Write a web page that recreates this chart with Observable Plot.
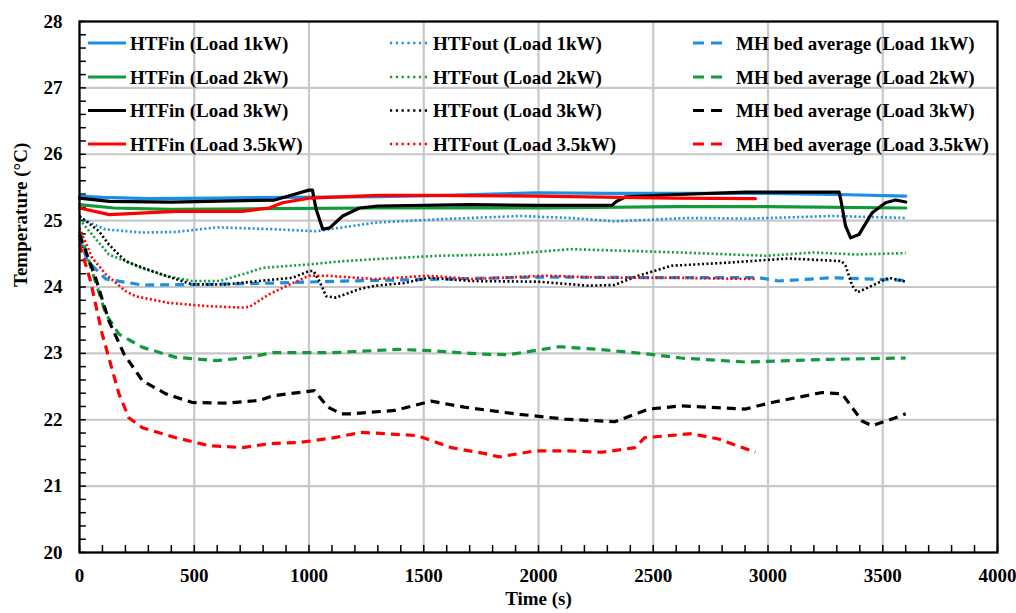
<!DOCTYPE html>
<html><head><meta charset="utf-8">
<script src="https://cdn.jsdelivr.net/npm/d3@7"></script>
<script src="https://cdn.jsdelivr.net/npm/@observablehq/plot@0.6"></script>
<style>
body{margin:0;background:#fff;}
#wrap{position:relative;width:1016px;height:613px;}
#legend{position:absolute;left:0;top:0;pointer-events:none;}
</style></head><body><div id="wrap"></div>
<script>
// ---- data (time s, temperature °C) ----
const loads = ["1kW", "2kW", "3kW", "3.5kW"];
const loadColors = ["#1a8fe3", "#109a3a", "#000000", "#ff0000"];
const kinds = ["HTFin", "HTFout", "MH bed average"];

const htfIn1kW = [[0,25.37],[100,25.35],[300,25.33],[600,25.34],[900,25.35],[1300,25.36],[1600,25.38],[2000,25.42],[2300,25.41],[2600,25.41],[3000,25.41],[3350,25.39],[3600,25.37]];
const htfIn2kW = [[0,25.24],[150,25.19],[400,25.17],[800,25.18],[1300,25.19],[2000,25.19],[2600,25.21],[3000,25.21],[3600,25.19]];
const htfIn3kW = [[0,25.34],[130,25.29],[400,25.28],[850,25.31],[930,25.39],[1000,25.46],[1015,25.46],[1031,25.17],[1060,24.87],[1090,24.89],[1147,25.07],[1220,25.19],[1300,25.22],[1700,25.24],[2000,25.23],[2320,25.23],[2340,25.29],[2380,25.36],[2580,25.39],[2900,25.43],[3310,25.43],[3318,25.3],[3338,24.92],[3360,24.74],[3396,24.79],[3454,25.12],[3512,25.27],[3556,25.31],[3600,25.28]];
const htfIn35kW = [[0,25.19],[130,25.09],[420,25.14],[710,25.14],[826,25.19],[885,25.27],[1000,25.34],[1300,25.38],[1500,25.38],[2000,25.37],[2580,25.34],[2945,25.33]];

const htfOut1kW = [[0,25.04],[110,24.87],[270,24.82],[420,24.83],[600,24.9],[850,24.87],[1030,24.84],[1290,24.97],[1560,25.02],[1920,25.07],[2140,25.04],[2330,24.99],[2650,25.04],[2920,25.03],[3280,25.07],[3600,25.04]];
const htfOut2kW = [[0,25.02],[55,24.79],[128,24.49],[200,24.39],[275,24.28],[375,24.17],[490,24.09],[610,24.09],[710,24.19],[800,24.29],[1000,24.34],[1150,24.39],[1290,24.42],[1560,24.47],[1850,24.49],[2140,24.57],[2430,24.54],[2620,24.52],[2990,24.47],[3200,24.52],[3380,24.49],[3600,24.51]];
const htfOut3kW = [[0,25.07],[85,24.84],[128,24.64],[200,24.39],[275,24.29],[375,24.17],[490,24.04],[640,24.04],[780,24.09],[930,24.14],[1000,24.24],[1020,24.24],[1045,24.09],[1075,23.86],[1118,23.84],[1220,23.97],[1290,24.02],[1416,24.06],[1520,24.14],[1710,24.09],[2000,24.08],[2215,24.02],[2330,24.03],[2435,24.17],[2580,24.32],[2840,24.37],[3090,24.43],[3320,24.39],[3338,24.32],[3367,24.02],[3389,23.92],[3454,24.02],[3527,24.14],[3600,24.08]];
const htfOut35kW = [[0,24.89],[55,24.44],[115,24.19],[200,23.94],[245,23.86],[390,23.76],[565,23.71],[710,23.69],[740,23.7],[826,23.89],[930,24.06],[1000,24.17],[1075,24.17],[1290,24.12],[1520,24.17],[1710,24.12],[2030,24.17],[2290,24.14],[2580,24.14],[2945,24.12]];

const mhBed1kW = [[0,24.74],[35,24.39],[115,24.12],[275,24.03],[565,24.04],[856,24.06],[1150,24.09],[1600,24.12],[2000,24.15],[2580,24.14],[2960,24.14],[3046,24.09],[3280,24.14],[3600,24.1]];
const mhBed2kW = [[0,24.84],[55,24.24],[115,23.59],[172,23.29],[275,23.09],[420,22.94],[595,22.89],[740,22.94],[840,23.01],[1100,23.01],[1390,23.06],[1530,23.04],[1750,22.99],[1870,22.98],[2090,23.1],[2260,23.06],[2480,22.99],[2620,22.93],[2900,22.87],[3265,22.91],[3600,22.93]];
const mhBed3kW = [[0,24.79],[70,24.14],[128,23.49],[194,22.99],[274,22.59],[376,22.39],[492,22.26],[638,22.25],[783,22.29],[841,22.36],[1023,22.44],[1082,22.19],[1140,22.09],[1183,22.09],[1373,22.14],[1533,22.28],[1677,22.19],[1895,22.09],[2114,22.01],[2332,21.97],[2479,22.16],[2624,22.21],[2900,22.16],[3017,22.26],[3236,22.41],[3323,22.39],[3410,21.98],[3454,21.91],[3555,22.03],[3600,22.09]];
const mhBed35kW = [[0,24.65],[48,24.09],[99,23.29],[172,22.39],[215,22.03],[274,21.88],[419,21.73],[565,21.61],[710,21.58],[826,21.64],[965,21.66],[1110,21.73],[1227,21.81],[1329,21.79],[1474,21.76],[1620,21.58],[1766,21.49],[1830,21.44],[1983,21.53],[2130,21.53],[2275,21.51],[2420,21.58],[2463,21.73],[2566,21.76],[2668,21.79],[2785,21.71],[2945,21.51]];

const xTicks = [0, 500, 1000, 1500, 2000, 2500, 3000, 3500, 4000];
const yTicks = [20, 21, 22, 23, 24, 25, 26, 27, 28];
const xMinorTicks = d3.range(0, 4001, 100);
const yMinorTicks = d3.range(0, 41).map(i => 20 + i * 0.2);

// ---- build table ----
const seriesData = {
  "HTFin": [htfIn1kW, htfIn2kW, htfIn3kW, htfIn35kW],
  "HTFout": [htfOut1kW, htfOut2kW, htfOut3kW, htfOut35kW],
  "MH bed average": [mhBed1kW, mhBed2kW, mhBed3kW, mhBed35kW]
};
const rows = [];
kinds.forEach(kind => {
  seriesData[kind].forEach((arr, i) => {
    const name = `${kind} (Load ${loads[i]})`;
    arr.forEach(([t, T]) => rows.push({t, T, kind, load: loads[i], name, color: loadColors[i]}));
  });
});

const styles = {
  "HTFin": {dash: null, width: 3.2},
  "HTFout": {dash: "2,2.4", width: 2.6},
  "MH bed average": {dash: "9,6", width: 3.2}
};
const drawOrder = ["MH bed average", "HTFout", "HTFin"];

const font = "'Liberation Serif','Times New Roman',serif";
const fmt = d => String(d);
const gridColor = "#c8c8c8";

const chart = Plot.plot({
  width: 1016, height: 613,
  marginLeft: 79, marginRight: 19, marginTop: 21, marginBottom: 61,
  x: {domain: [0, 4000], ticks: xTicks, tickFormat: fmt, tickSize: 0, tickPadding: 16, label: null},
  y: {domain: [20, 28], ticks: yTicks, tickFormat: fmt, tickSize: 0, tickPadding: 17, label: null},
  style: {fontFamily: font, fontWeight: "bold", fontSize: "19px", color: "#000", background: "#fff"},
  marks: [
    Plot.ruleX(xTicks, {x: d => d, stroke: gridColor, strokeWidth: 2.2}),
    Plot.ruleY(yTicks, {y: d => d, stroke: gridColor, strokeWidth: 2.2}),
    Plot.ruleX(xMinorTicks, {x: d => d, y1: () => 20, y2: () => 20.105, stroke: "#000", strokeWidth: 1.5}),
    Plot.ruleY(yMinorTicks, {y: d => d, x1: () => 0, x2: () => 30, stroke: "#000", strokeWidth: 1.5}),
    ...drawOrder.map(kind => Plot.line(rows.filter(r => r.kind === kind), {
      x: "t", y: "T", z: "name", stroke: "color",
      strokeWidth: styles[kind].width,
      strokeDasharray: styles[kind].dash,
      strokeLinecap: kind === "HTFin" ? "round" : "butt",
      strokeLinejoin: "round"
    })),
    Plot.frame({stroke: "#000", strokeWidth: 2.2}),
    Plot.text(["Time (s)"], {text: d => d, frameAnchor: "bottom", dy: 52, fontSize: 19, fontWeight: "bold"}),
    Plot.text(["Temperature (°C)"], {text: d => d, frameAnchor: "left", dx: -59, rotate: -90, fontSize: 19, fontWeight: "bold"})
  ]
});

const wrap = document.getElementById("wrap");
wrap.appendChild(chart);

// ---- legend overlay (inside plot area) ----
const legendCols = [{x1: 88, x2: 126, tx: 130}, {x1: 390, x2: 427, tx: 433}, {x1: 693, x2: 725, tx: 736}];
const legendRows = [43, 77, 110.5, 144];
const legendDash = {"HTFin": null, "HTFout": "2.2,3.6", "MH bed average": "11,7"};
const lg = d3.select(wrap).append("svg").attr("id", "legend").attr("width", 1016).attr("height", 613);
kinds.forEach((kind, c) => {
  loads.forEach((ld, r) => {
    const y = legendRows[r];
    const col = legendCols[c];
    lg.append("line").attr("x1", col.x1).attr("x2", col.x2).attr("y1", y).attr("y2", y)
      .attr("stroke", loadColors[r]).attr("stroke-width", kind === "HTFout" ? 2.6 : 3)
      .attr("stroke-dasharray", legendDash[kind]);
    lg.append("text").attr("x", col.tx).attr("y", y).attr("dy", "0.35em")
      .attr("font-family", font).attr("font-weight", "bold").attr("font-size", 19)
      .text(`${kind} (Load ${ld})`);
  });
});
</script></body></html>
